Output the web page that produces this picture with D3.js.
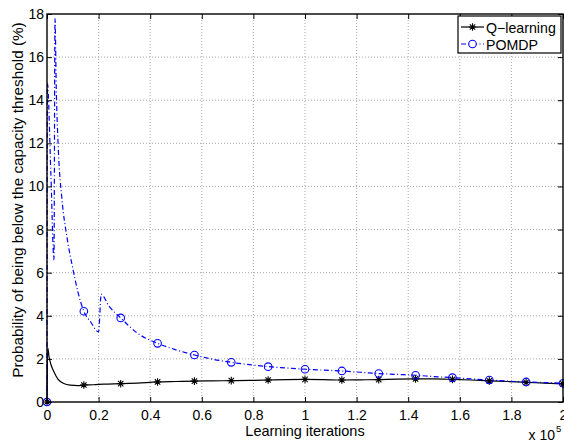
<!DOCTYPE html>
<html>
<head>
<meta charset="utf-8">
<script src="https://d3js.org/d3.v7.min.js"></script>
<style>
  html, body { margin: 0; padding: 0; background: #fff; }
  svg { display: block; }
  text { font-family: "Liberation Sans", Arial, Helvetica, sans-serif; }
</style>
</head>
<body>
<svg id="chart" width="564" height="442"></svg>
<script>
// Learning iterations (x) and probability values (%) for each method
const qIters = [0, 300, 800, 1500, 2500, 4300, 6500, 9000, 12000, 14286, 18000, 22000, 28571,
  35000, 42857, 50000, 57143, 64000, 71429, 78500, 85714, 92800, 100000, 107000, 114286,
  121400, 128571, 135700, 142857, 150000, 157143, 164300, 171429, 178500, 185714, 192800, 200000];
const qValues = [0, 2.5, 2.1, 1.75, 1.45, 1.05, 0.86, 0.78, 0.76, 0.79, 0.80, 0.83, 0.85,
  0.88, 0.93, 0.95, 0.97, 0.98, 0.99, 1.00, 1.02, 1.04, 1.05, 1.04, 1.02,
  1.03, 1.04, 1.06, 1.07, 1.07, 1.05, 1.02, 0.98, 0.95, 0.91, 0.88, 0.84];

const pomdpIters = [0, 150, 1500, 2700, 3100, 3600, 4400, 5800, 7800, 10000, 12000, 14286,
  17000, 20000, 21000, 24000, 28571, 35000, 42857, 50000, 57143, 64000, 71429, 78500, 85714,
  92800, 100000, 107000, 114286, 121400, 128571, 135700, 142857, 150000, 157143, 164300,
  171429, 178500, 185714, 192800, 200000];
const pomdpValues = [0, 14.8, 10.6, 6.6, 17.8, 14.5, 11.7, 9.4, 7.6, 6.2, 5.1, 4.21,
  3.7, 3.25, 5.0, 4.45, 3.9, 3.2, 2.72, 2.42, 2.18, 1.99, 1.84, 1.73, 1.64,
  1.58, 1.52, 1.48, 1.44, 1.38, 1.32, 1.28, 1.24, 1.18, 1.13, 1.07,
  1.02, 0.97, 0.93, 0.90, 0.87];

// Iterations at which markers are placed
const markerIters = [0, 14286, 28571, 42857, 57143, 71429, 85714, 100000, 114286,
  128571, 142857, 157143, 171429, 185714, 200000];

const xTicks = [0, 20000, 40000, 60000, 80000, 100000, 120000, 140000, 160000, 180000, 200000];
const xTickLabels = ["0", "0.2", "0.4", "0.6", "0.8", "1", "1.2", "1.4", "1.6", "1.8", "2"];
const yTicks = [0, 2, 4, 6, 8, 10, 12, 14, 16, 18];

const seriesNames = ["Q\u2212learning", "POMDP"];

const svg = d3.select("#chart");
const plotLeft = 47, plotRight = 563, plotTop = 14, plotBottom = 402;

const x = d3.scaleLinear().domain([0, 200000]).range([plotLeft, plotRight]);
const y = d3.scaleLinear().domain([0, 18]).range([plotBottom, plotTop]);

// Grid
const grid = svg.append("g");
grid.selectAll("line.gx").data(xTicks.slice(1, -1)).enter().append("line")
  .attr("x1", d => x(d)).attr("x2", d => x(d)).attr("y1", plotTop).attr("y2", plotBottom)
  .attr("stroke", "#a8a8a8").attr("stroke-width", 1).attr("stroke-dasharray", "1,2");
grid.selectAll("line.gy").data(yTicks.slice(1, -1)).enter().append("line")
  .attr("y1", d => y(d)).attr("y2", d => y(d)).attr("x1", plotLeft).attr("x2", plotRight)
  .attr("stroke", "#a8a8a8").attr("stroke-width", 1).attr("stroke-dasharray", "1,2");

const qData = qIters.map((v, i) => [v, qValues[i]]);
const pData = pomdpIters.map((v, i) => [v, pomdpValues[i]]);

const line = d3.line().x(d => x(d[0])).y(d => y(d[1])).curve(d3.curveMonotoneX);

const plot = svg.append("g");
plot.append("path").datum(qData).attr("d", line)
  .attr("fill", "none").attr("stroke", "#000").attr("stroke-width", 1.2);
plot.append("path").datum(pData).attr("d", line)
  .attr("fill", "none").attr("stroke", "#0000ff").attr("stroke-width", 1.2)
  .attr("stroke-dasharray", "5,2.5,1,2.5");

const starPath = "M-3.8,0H3.8M0,-3.8V3.8M-2.7,-2.7L2.7,2.7M-2.7,2.7L2.7,-2.7";

plot.selectAll("path.qm").data(qData.filter(d => markerIters.includes(d[0]))).enter()
  .append("path").attr("d", starPath)
  .attr("transform", d => `translate(${x(d[0])},${y(d[1])})`)
  .attr("stroke", "#000").attr("stroke-width", 1.1).attr("fill", "none");
plot.selectAll("circle.pm").data(pData.filter(d => markerIters.includes(d[0]))).enter()
  .append("circle").attr("r", 3.8)
  .attr("cx", d => x(d[0])).attr("cy", d => y(d[1]))
  .attr("stroke", "#0000ff").attr("stroke-width", 1.1).attr("fill", "none");

// Axes with inward ticks on all four sides
const fmtX = (d) => xTickLabels[xTicks.indexOf(d)];
const axB = svg.append("g").attr("transform", `translate(0,${plotBottom})`)
  .call(d3.axisBottom(x).tickValues(xTicks).tickSize(-5).tickPadding(8).tickFormat(fmtX));
const axT = svg.append("g").attr("transform", `translate(0,${plotTop})`)
  .call(d3.axisTop(x).tickValues(xTicks).tickSize(-5).tickFormat(""));
const axL = svg.append("g").attr("transform", `translate(${plotLeft},0)`)
  .call(d3.axisLeft(y).tickValues(yTicks).tickSize(-5).tickPadding(3).tickFormat(d3.format("d")));
const axR = svg.append("g").attr("transform", `translate(${plotRight},0)`)
  .call(d3.axisRight(y).tickValues(yTicks).tickSize(-5).tickFormat(""));

[axB, axT, axL, axR].forEach(a => {
  a.select(".domain").remove();
  a.selectAll(".tick line").attr("stroke", "#000").attr("stroke-width", 1);
  a.selectAll("text").attr("font-size", 14).attr("fill", "#000")
    .attr("font-family", "'Liberation Sans', Arial, sans-serif");
});

svg.append("rect").attr("x", plotLeft).attr("y", plotTop)
  .attr("width", plotRight - plotLeft).attr("height", plotBottom - plotTop)
  .attr("fill", "none").attr("stroke", "#000").attr("stroke-width", 1.4);

// Axis labels
svg.append("text").attr("x", (plotLeft + plotRight) / 2).attr("y", 436)
  .attr("text-anchor", "middle").attr("font-size", 14.5).text("Learning iterations");
svg.append("text")
  .attr("transform", "translate(23,200) rotate(-90)")
  .attr("text-anchor", "middle").attr("font-size", 15.3)
  .text("Probability of being below the capacity threshold (%)");
svg.append("text").attr("x", 555).attr("y", 440).attr("text-anchor", "end")
  .attr("font-size", 14).text("x 10");
svg.append("text").attr("x", 556).attr("y", 432).attr("font-size", 9.5).text("5");

// Legend
const lg = svg.append("g");
lg.append("rect").attr("x", 458).attr("y", 16).attr("width", 103).attr("height", 37)
  .attr("fill", "#fff").attr("stroke", "#000").attr("stroke-width", 1.2);
const rows = [
  { name: seriesNames[0], color: "#000", dash: null, marker: "star", cy: 27 },
  { name: seriesNames[1], color: "#0000ff", dash: "5,2.5,1,2.5", marker: "circle", cy: 44 }
];
rows.forEach(r => {
  lg.append("line").attr("x1", 461).attr("x2", 484).attr("y1", r.cy).attr("y2", r.cy)
    .attr("stroke", r.color).attr("stroke-width", 1.2)
    .attr("stroke-dasharray", r.dash);
  if (r.marker === "star") {
    lg.append("path").attr("d", starPath).attr("transform", `translate(472.5,${r.cy})`)
      .attr("stroke", r.color).attr("stroke-width", 1.1).attr("fill", "none");
  } else {
    lg.append("circle").attr("cx", 472.5).attr("cy", r.cy).attr("r", 3.8)
      .attr("stroke", r.color).attr("stroke-width", 1.1).attr("fill", "#fff");
  }
  lg.append("text").attr("x", 486).attr("y", r.cy + 5.5).attr("font-size", 14.2).text(r.name);
});
</script>
</body>
</html>
